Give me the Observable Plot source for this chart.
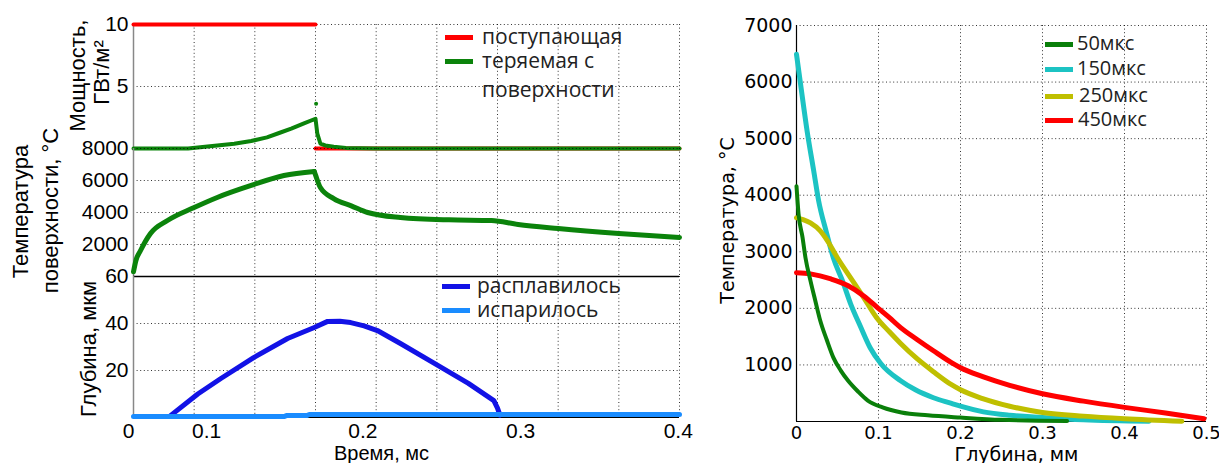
<!DOCTYPE html>
<html><head><meta charset="utf-8">
<script src="https://cdn.jsdelivr.net/npm/d3@7"></script>
<script src="https://cdn.jsdelivr.net/npm/@observablehq/plot@0.6"></script>
<style>
body{margin:0;background:#fff;}
#root{position:relative;width:1219px;height:463px;overflow:hidden;background:#fff;}
#root svg{position:absolute;overflow:visible;max-width:none;}
.leg{position:absolute;font-family:"Open Sans",sans-serif;color:#222;white-space:nowrap;line-height:24px;height:24px;}
.sw{position:absolute;height:5px;width:28px;}
</style></head><body><div id="root"></div>
<script>
// ---------- LEFT: time axis ----------
const timeGrid = [0.05,0.1,0.15,0.2,0.25,0.3,0.35,0.4,0.45];
const timeTickAt = [-0.004,0.0602,0.189,0.319,0.449];
const timeTickLabels = ["0","0.1","0.2","0.3","0.4"];

// panel 1: power, GW/m2
const powerTicks = [5,10];
const powerInTime = [0,0.15,0.15,0.45];
const powerIn     = [10,10,0,0];
const powerInSeg  = [0,0,1,1];
const powerLossTime = [0,0.045,0.055,0.069,0.083,0.097,0.11,0.12,0.13,0.14,0.15,0.1515,0.154,0.158,0.165,0.175,0.2,0.45];
const powerLoss     = [0,0,0.1,0.25,0.38,0.6,0.9,1.25,1.6,2.0,2.4,1.2,0.4,0.25,0.15,0.05,0,0];
const powerSpikeTime = [0.1505];
const powerSpike     = [3.6];

// panel 2: surface temperature
const tempTicks = [2000,4000,6000,8000];
const tempTime1 = [0,0.002,0.0058,0.014,0.028,0.05,0.069,0.097,0.124,0.149];
const temp1     = [300,1000,1625,2690,3500,4310,4940,5690,6310,6560];
const tempTime2 = [0.1502,0.154,0.165,0.18,0.193,0.22,0.26,0.295,0.317,0.35,0.40,0.45];
const temp2     = [6300,5560,4870,4400,4000,3690,3540,3500,3250,3000,2690,2440];

// panel 3: depth, um
const depthTicks = [20,40,60];
const meltTime = [0.0305,0.053,0.072,0.099,0.127,0.149,0.16,0.17,0.179,0.19,0.201,0.22,0.248,0.276,0.297,0.3,0.302];
const melt     = [0.8,10,16.6,25.5,33.6,38.3,40.9,41,40.4,39,37,31.5,23,14.5,7.2,4,1];
const vaporTime = [0,0.124,0.126,0.143,0.145,0.45];
const vapor     = [0.4,0.4,0.8,0.8,1.3,1.3];

// ---------- RIGHT: temperature profiles ----------
const depthTicksR = [0,0.1,0.2,0.3,0.4,0.5];
const depthTickLabelsR = ["0","0.1","0.2","0.3","0.4","0.5"];
const tempTicksR = [1000,2000,3000,4000,5000,6000,7000];
const depth50 = [0,0.0025,0.0074,0.011,0.017,0.023,0.029,0.037,0.045,0.054,0.063,0.075,0.087,0.105,0.128,0.16,0.2,0.25,0.33];
const temp50  = [4160,3670,3250,2890,2490,2130,1780,1440,1130,900,720,530,370,250,160,110,70,30,10];
const depth150 = [0,0.005,0.013,0.021,0.027,0.036,0.045,0.056,0.066,0.078,0.09,0.103,0.127,0.145,0.167,0.189,0.2,0.228,0.26,0.3,0.35,0.43];
const temp150  = [6490,5960,5130,4430,3900,3370,2890,2490,2080,1680,1300,1020,720,560,420,320,270,170,110,70,30,5];
const depth250 = [0,0.008,0.017,0.029,0.038,0.05,0.066,0.082,0.098,0.113,0.127,0.147,0.167,0.189,0.2,0.228,0.26,0.3,0.35,0.4,0.47];
const temp250  = [3600,3570,3510,3370,3190,2890,2540,2190,1830,1590,1380,1110,880,650,560,400,270,160,95,50,5];
const depth450 = [0,0.017,0.042,0.063,0.082,0.099,0.113,0.127,0.147,0.167,0.189,0.2,0.228,0.26,0.3,0.35,0.4,0.45,0.497];
const temp450  = [2630,2610,2520,2400,2220,2010,1840,1660,1450,1250,1040,950,790,640,490,360,250,150,50];

// legends
const legPowerLabels = ["поступающая","теряемая с","поверхности"];
const legDepthLabels = ["расплавилось","испарилось"];
const legProfileLabels = ["50мкс","150мкс","250мкс","450мкс"];

// ---------- helpers ----------
const rows = (xs, ys, zs) => xs.map((x,i) => ({x, y: ys[i], z: zs ? zs[i] : 0}));
const C = {red:"#ff0000", green:"#0b830b", blue:"#1212e6", lblue:"#1a8cff", cyan:"#1cc3c3", yellow:"#bfbf00", dkgreen:"#0a7f0a"};
const gridStyle = {stroke:"#000", strokeOpacity:0.8, strokeDasharray:"1,2.6", strokeWidth:1};
const root = document.getElementById("root");
function place(svg, left, top){ svg.style.left = left+"px"; svg.style.top = top+"px"; root.appendChild(svg); }
const LFONT = {fontFamily:"'Liberation Sans', Arial, sans-serif", fontSize:"21px", color:"#000", background:"transparent", overflow:"visible"};
const common = {width:700, marginLeft:133, marginRight:21};
const xL = {domain:[0,0.45], axis:null};
const yTitle = (s, dx, dy, fs) => Plot.text([s], {text:d=>d, frameAnchor:"left", textAnchor:"middle", lineAnchor:"middle", rotate:-90, dx, dy, fontSize:fs});
const xTitle = (s, dx, dy, fs) => Plot.text([s], {text:d=>d, frameAnchor:"bottom", textAnchor:"middle", lineAnchor:"middle", dx, dy, fontSize:fs});

// ---------- panel 1 ----------
place(Plot.plot({...common, height:148, marginTop:24, marginBottom:0, style:LFONT,
  x:xL, y:{domain:[0,10]},
  marks:[
    Plot.gridX(timeGrid, gridStyle),
    Plot.gridY(powerTicks, gridStyle),
    Plot.ruleX([0], {stroke:"#888", strokeWidth:1.5}),
    Plot.axisY(powerTicks, {tickSize:0, tickPadding:5, label:null, fontSize:21}),
    Plot.line(rows(powerInTime, powerIn, powerInSeg), {x:"x", y:"y", z:"z", stroke:C.red, strokeWidth:4}),
    Plot.line(rows(powerLossTime, powerLoss), {x:"x", y:"y", stroke:C.green, strokeWidth:4, strokeLinejoin:"round"}),
    Plot.dot(rows(powerSpikeTime, powerSpike), {x:"x", y:"y", r:2, fill:C.green}),
    yTitle("Мощность,", -56, -11, 22),
    yTitle("ГВт/м²", -32, -14, 22)
  ]}), 0, 0);

// ---------- panel 2 ----------
place(Plot.plot({...common, height:128, marginTop:0, marginBottom:0, style:LFONT,
  x:xL, y:{domain:[0,8000]},
  marks:[
    Plot.gridX(timeGrid, gridStyle),
    Plot.gridY(tempTicks, gridStyle),
    Plot.ruleX([0], {stroke:"#888", strokeWidth:1.5}),
    Plot.axisY(tempTicks, {tickSize:0, tickPadding:5, label:null, fontSize:21, tickFormat:d=>String(d)}),
    Plot.line(rows(tempTime1, temp1), {x:"x", y:"y", stroke:C.green, strokeWidth:5, strokeLinejoin:"round", curve:"monotone-x"}),
    Plot.line(rows([tempTime1[tempTime1.length-1], ...tempTime2], [temp1[temp1.length-1], ...temp2]), {x:"x", y:"y", stroke:C.green, strokeWidth:5, strokeLinejoin:"round", curve:"monotone-x"}),
    yTitle("Температура", -113, -1, 22),
    yTitle("поверхности, °C", -83, -2, 22)
  ]}), 0, 148);

// ---------- panel 3 ----------
place(Plot.plot({...common, height:187, marginTop:0, marginBottom:46, style:LFONT,
  x:{domain:[0,0.45]}, y:{domain:[0,60]},
  marks:[
    Plot.gridX(timeGrid, gridStyle),
    Plot.gridY([20,40], gridStyle),
    Plot.ruleY([60], {stroke:"#000", strokeWidth:1.5}),
    Plot.ruleY([0], {stroke:"#000", strokeWidth:1.2}),
    Plot.ruleX([0], {stroke:"#888", strokeWidth:1.5}),
    Plot.axisY(depthTicks, {tickSize:0, tickPadding:5, label:null, fontSize:21}),
    Plot.axisX(timeTickAt, {tickSize:0, tickPadding:6, label:null, fontSize:21, tickFormat:d=>timeTickLabels[timeTickAt.indexOf(d)]}),
    Plot.line(rows(meltTime, melt), {x:"x", y:"y", stroke:C.blue, strokeWidth:5, strokeLinejoin:"round"}),
    Plot.line(rows(vaporTime, vapor), {x:"x", y:"y", stroke:C.lblue, strokeWidth:5}),
    yTitle("Глубина, мкм", -45, 2, 22),
    xTitle("Время, мс", -25, 36, 20)
  ]}), 0, 276);

// ---------- right chart ----------
const RFONT = {fontFamily:"'DejaVu Sans', sans-serif", fontSize:"19px", color:"#000", background:"transparent", overflow:"visible"};
place(Plot.plot({width:519, height:463, marginLeft:96, marginRight:13, marginTop:25, marginBottom:42, style:RFONT,
  x:{domain:[0,0.5]}, y:{domain:[0,7000]},
  marks:[
    Plot.gridX(depthTicksR.slice(1), gridStyle),
    Plot.gridY(tempTicksR, gridStyle),
    Plot.ruleX([0], {stroke:"#000", strokeWidth:1.2}),
    Plot.ruleY([0], {stroke:"#000", strokeWidth:1.2}),
    Plot.axisY(tempTicksR, {tickSize:0, tickPadding:4, label:null, fontSize:19, tickFormat:d=>String(d)}),
    Plot.axisX(depthTicksR, {tickSize:0, tickPadding:5, label:null, fontSize:18, tickFormat:d=>depthTickLabelsR[depthTicksR.indexOf(d)]}),
    Plot.line(rows(depth150, temp150), {x:"x", y:"y", stroke:C.cyan, strokeWidth:5, strokeLinejoin:"round", curve:"monotone-x"}),
    Plot.line(rows(depth250, temp250), {x:"x", y:"y", stroke:C.yellow, strokeWidth:5, strokeLinejoin:"round", curve:"monotone-x"}),
    Plot.line(rows(depth450, temp450), {x:"x", y:"y", stroke:C.red, strokeWidth:5, strokeLinejoin:"round", curve:"monotone-x"}),
    Plot.line(rows(depth50, temp50), {x:"x", y:"y", stroke:C.dkgreen, strokeWidth:4, strokeLinejoin:"round", curve:"monotone-x"}),
    yTitle("Температура, °C", -69, -3, 19),
    xTitle("Глубина, мм", 15, 33, 19)
  ]}), 700, 0);

// ---------- legends (HTML) ----------
function legend(labels, colors, centers, swLeft, txtLeft, fontSize, shift){
  labels.forEach((lab, i) => {
    if (colors[i]) {
      const s = document.createElement("div");
      s.className = "sw"; s.style.left = swLeft+"px"; s.style.top = (centers[i]-2.5)+"px"; s.style.background = colors[i];
      root.appendChild(s);
    }
    const t = document.createElement("div");
    t.className = "leg"; t.textContent = lab;
    t.style.left = (txtLeft + (shift ? shift[i] : 0))+"px";
    t.style.fontSize = fontSize+"px";
    t.style.top = (centers[i] - 13)+"px";
    root.appendChild(t);
  });
}
legend(legPowerLabels, [C.red, C.green, null], [37, 61, 90], 445, 482, 21);
legend(legDepthLabels, [C.blue, C.lblue], [286, 310], 442, 477, 21);
legend(legProfileLabels, [C.dkgreen, C.cyan, C.yellow, C.red], [44, 69, 96, 120], 1045, 1077, 20, [0,0,2,1]);
</script></body></html>
